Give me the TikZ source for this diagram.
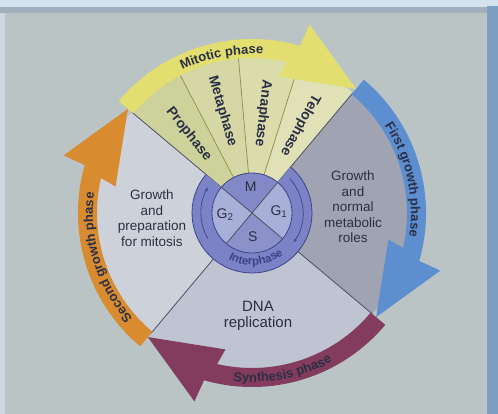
\documentclass[tikz,border=0pt]{standalone}
\usepackage{fontspec}
\setmainfont{Liberation Sans}
\usetikzlibrary{arrows.meta, decorations.text}

\definecolor{paperC}{HTML}{BAC4C4}
\definecolor{topC}{HTML}{D2E3EF}
\definecolor{shadeC}{HTML}{9FAFBB}
\definecolor{edgeC}{HTML}{7E9EC2}
\definecolor{leftC}{HTML}{CBD8DD}
\definecolor{gtwoC}{HTML}{CDD2DA}
\definecolor{synC}{HTML}{BEC4D2}
\definecolor{goneC}{HTML}{A0A4B2}
\definecolor{proC}{HTML}{CDD29A}
\definecolor{metaC}{HTML}{D5D8A4}
\definecolor{anaC}{HTML}{DADCAC}
\definecolor{teloC}{HTML}{E0E1B6}
\definecolor{yellowC}{HTML}{E2DE70}
\definecolor{blueC}{HTML}{5C8ED0}
\definecolor{purpleC}{HTML}{833C5E}
\definecolor{orangeC}{HTML}{D98B30}
\definecolor{ringC}{HTML}{7C82C6}
\definecolor{ringlineC}{HTML}{3E4388}
\definecolor{quadMC}{HTML}{8389C6}
\definecolor{quadLC}{HTML}{A8B0D9}
\definecolor{quadSC}{HTML}{8C92C9}
\definecolor{lineC}{HTML}{4C5062}
\definecolor{oliveC}{HTML}{8E8E4A}
\definecolor{inkC}{HTML}{2B2F45}

\begin{document}
\begin{tikzpicture}[
    x=1pt, y=1pt,
    divider/.style={draw=lineC, line width=0.8pt},
    subdivider/.style={draw=oliveC, line width=0.7pt},
    sectortext/.style={font=\fontsize{13.5}{15.5}\selectfont, text=inkC, align=center},
    stagetext/.style={font=\fontsize{14}{16}\selectfont\bfseries, text=inkC},
    quadtext/.style={font=\fontsize{14}{16}\selectfont, text=inkC},
    ringline/.style={draw=ringlineC, line width=0.7pt, -{Stealth[length=4pt, width=3pt]}},
    bandtext/.style={decorate, decoration={text along path, text align=center, text color=inkC}},
]
    % Page
    \useasboundingbox (-252,-201) rectangle (246,213);
    \fill[paperC] (-252,-201) rectangle (246,213);
    \fill[leftC] (-252,-201) rectangle (-247,206);
    \fill[shadeC] (-252,200) rectangle (246,207);
    \fill[topC] (-252,206) rectangle (246,213);
    \fill[edgeC] (235,-201) rectangle (246,207);

    % Sectors
    \fill[gtwoC] (0,0) -- (140:157pt) arc[start angle=140, end angle=230, radius=157pt] -- cycle;
    \fill[synC] (0,0) -- (230:157pt) arc[start angle=230, end angle=320, radius=157pt] -- cycle;
    \fill[goneC] (0,0) -- (-40:157pt) arc[start angle=-40, end angle=50, radius=157pt] -- cycle;
    \fill[teloC] (0,0) -- (50:157pt) arc[start angle=50, end angle=72.5, radius=157pt] -- cycle;
    \fill[anaC] (0,0) -- (72.5:157pt) arc[start angle=72.5, end angle=95, radius=157pt] -- cycle;
    \fill[metaC] (0,0) -- (95:157pt) arc[start angle=95, end angle=117.5, radius=157pt] -- cycle;
    \fill[proC] (0,0) -- (117.5:157pt) arc[start angle=117.5, end angle=140, radius=157pt] -- cycle;

    % Dividers
    \draw[subdivider] (72.5:40pt) -- (72.5:157pt);
    \draw[subdivider] (95:40pt) -- (95:157pt);
    \draw[subdivider] (117.5:40pt) -- (117.5:157pt);
    \draw[divider] (0,0) -- (50:157pt);
    \draw[divider] (0,0) -- (140:157pt);
    \draw[divider] (0,0) -- (230:157pt);
    \draw[divider] (0,0) -- (320:157pt);

    % Interphase ring
    \fill[ringC] (140:40pt) arc[start angle=140, end angle=410, radius=40pt]
        -- (50:60pt) arc[start angle=410, end angle=140, radius=60pt] -- cycle;
    \draw[ringlineC, line width=0.8pt] (140:60pt) arc[start angle=140, end angle=410, radius=60pt];
    \draw[ringline] (42:51pt) arc[start angle=42, end angle=-35, radius=51pt];
    \draw[ringline] (210:51pt) arc[start angle=210, end angle=150, radius=51pt];
    \path[bandtext, decoration={text={|\fontsize{11.5}{13}\selectfont\bfseries|Interphase}, text color=ringlineC}]
        (235:52pt) arc[start angle=235, end angle=315, radius=52pt];

    % Inner quadrants
    \fill[quadMC] (0,0) -- (50:40pt) arc[start angle=50, end angle=140, radius=40pt] -- cycle;
    \fill[quadLC] (0,0) -- (140:40pt) arc[start angle=140, end angle=230, radius=40pt] -- cycle;
    \fill[quadSC] (0,0) -- (230:40pt) arc[start angle=230, end angle=320, radius=40pt] -- cycle;
    \fill[quadLC] (0,0) -- (-40:40pt) arc[start angle=-40, end angle=50, radius=40pt] -- cycle;
    \draw[divider] (50:40pt) -- (230:40pt);
    \draw[divider] (140:40pt) -- (320:40pt);
    \draw[ringlineC, line width=0.8pt] (0,0) circle[radius=40pt];
    \node[quadtext] (mq) at (93:26pt) {M};
    \node[quadtext] (gone) at (3:27pt) {G\textsubscript{1}};
    \node[quadtext] (sq) at (272:24pt) {S};
    \node[quadtext] (gtwo) at (183:27pt) {G\textsubscript{2}};

    % Phase arrows
    \foreach \s/\t/\c in {50/-40/blueC, 320/230/purpleC, 230/140/orangeC, 140/50/yellowC} {
        \fill[\c] (\s:174pt) arc[start angle=\s, end angle=\t+24, radius=174pt]
            -- (\t+23:197pt) -- (\t:162pt) -- (\t+29:139pt) -- (\t+27:155pt)
            arc[start angle=\t+27, end angle=\s, radius=155pt] -- cycle;
    }

    % Arrow labels
    \path[bandtext, decoration={text={|\fontsize{13}{15}\selectfont\bfseries|Mitotic phase}}]
        (131:159pt) arc[start angle=131, end angle=71, radius=159pt];
    \path[bandtext, decoration={text={|\fontsize{13}{15}\selectfont\bfseries|First growth phase}}]
        (42:159pt) arc[start angle=42, end angle=-17, radius=159pt];
    \path[bandtext, decoration={text={|\fontsize{13}{15}\selectfont\bfseries|Synthesis phase}}]
        (250:169pt) arc[start angle=250, end angle=312, radius=169pt];
    \path[bandtext, decoration={text={|\fontsize{13}{15}\selectfont\bfseries|Second growth phase}}]
        (228:159pt) arc[start angle=228, end angle=166, radius=159pt];

    % Mitotic stages
    \node[stagetext, rotate=-51.25] (pro) at (128.75:101pt) {Prophase};
    \node[stagetext, rotate=-73.75] (meta) at (106.25:106pt) {Metaphase};
    \node[stagetext, rotate=-96.25] (ana) at (83.75:100pt) {Anaphase};
    \node[stagetext, rotate=-118.75] (telo) at (61.25:100pt) {Telophase};

    % Sector texts
    \node[sectortext] (gtwotext) at (-100,-5) {Growth\\and\\preparation\\for mitosis};
    \node[sectortext] (gonetext) at (101,6) {Growth\\and\\normal\\metabolic\\roles};
    \node[sectortext, font=\fontsize{15}{15.5}\selectfont] (stext) at (6,-103) {DNA\\replication};
\end{tikzpicture}
\end{document}
